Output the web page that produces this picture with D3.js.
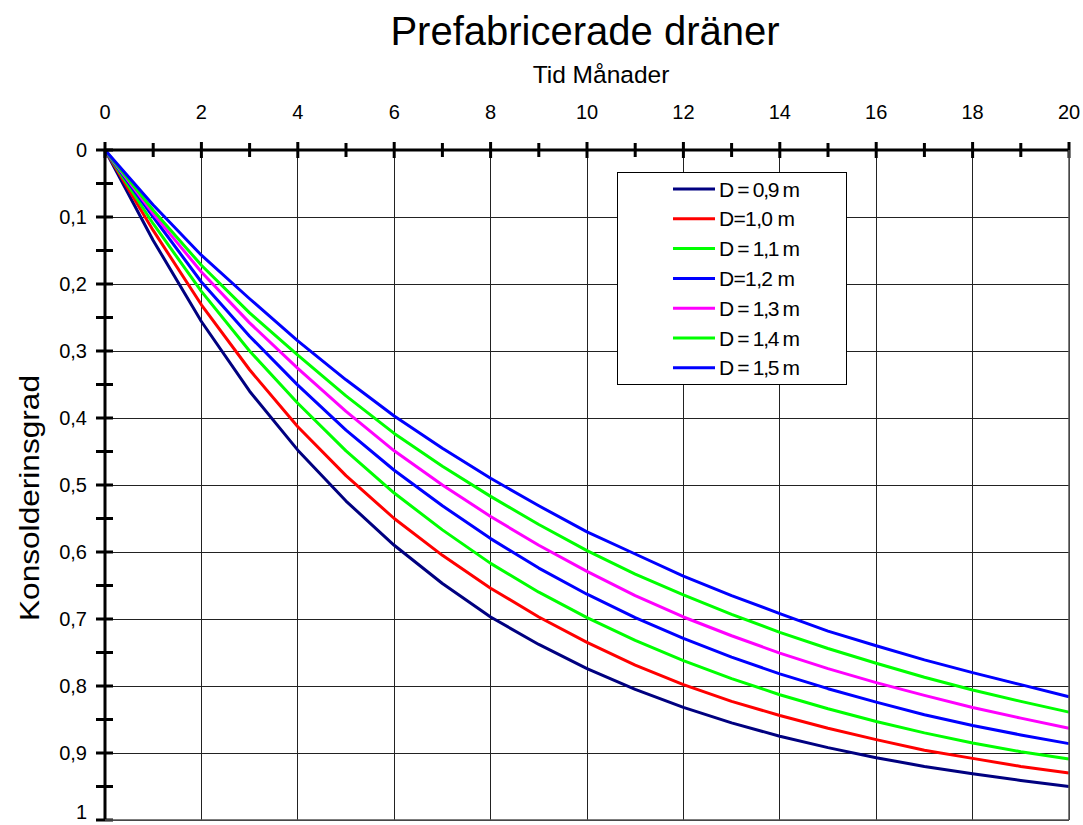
<!DOCTYPE html>
<html>
<head>
<meta charset="utf-8">
<script src="https://cdn.jsdelivr.net/npm/d3@7"></script>
<style>
  html, body { margin: 0; padding: 0; background: #fff; }
  svg { display: block; font-family: "Liberation Sans", Arial, sans-serif; }
</style>
</head>
<body>
<svg id="chart" width="1083" height="825"></svg>
<script>
// Time in months
const months = d3.range(0, 21);

// Degree of consolidation for each drain spacing D
const seriesLabels = ["D = 0,9 m", "D=1,0 m", "D = 1,1 m", "D=1,2 m", "D = 1,3 m", "D = 1,4 m", "D = 1,5 m"];
const seriesColors = ["#000080", "#ff0000", "#00ff00", "#0000ff", "#ff00ff", "#00ff00", "#0000ff"];

const d09 = [0, 0.135, 0.256, 0.360, 0.448, 0.524, 0.590, 0.647, 0.697, 0.738, 0.774, 0.805, 0.832, 0.855, 0.875, 0.892, 0.907, 0.920, 0.931, 0.941, 0.950];
const d10 = [0, 0.120, 0.231, 0.328, 0.413, 0.486, 0.550, 0.605, 0.654, 0.697, 0.735, 0.769, 0.798, 0.823, 0.844, 0.863, 0.880, 0.896, 0.908, 0.920, 0.930];
const d11 = [0, 0.110, 0.211, 0.300, 0.378, 0.449, 0.512, 0.567, 0.617, 0.660, 0.698, 0.732, 0.762, 0.789, 0.813, 0.834, 0.853, 0.870, 0.885, 0.898, 0.909];
const d12 = [0, 0.100, 0.197, 0.278, 0.351, 0.418, 0.478, 0.531, 0.580, 0.624, 0.663, 0.698, 0.729, 0.757, 0.782, 0.804, 0.824, 0.843, 0.859, 0.873, 0.886];
const d13 = [0, 0.095, 0.182, 0.258, 0.326, 0.390, 0.449, 0.500, 0.547, 0.590, 0.629, 0.665, 0.697, 0.725, 0.751, 0.774, 0.795, 0.814, 0.832, 0.848, 0.863];
const d14 = [0, 0.090, 0.172, 0.243, 0.306, 0.367, 0.423, 0.472, 0.517, 0.559, 0.598, 0.633, 0.664, 0.693, 0.720, 0.744, 0.766, 0.787, 0.806, 0.823, 0.839];
const d15 = [0, 0.082, 0.157, 0.222, 0.285, 0.343, 0.397, 0.445, 0.490, 0.531, 0.570, 0.603, 0.636, 0.665, 0.692, 0.718, 0.740, 0.761, 0.780, 0.798, 0.816];

const seriesValues = [d09, d10, d11, d12, d13, d14, d15];

const xTicks = d3.range(0, 21, 2);
const xMinorTicks = d3.range(0, 21, 1);
const yTicks = d3.range(0, 11).map(i => i / 10);
const yMinorTicks = d3.range(0, 21).map(i => i / 20);

const svg = d3.select("#chart");
const plotLeft = 105, plotRight = 1069, plotTop = 150, plotBottom = 820;

const x = d3.scaleLinear().domain([0, 20]).range([plotLeft, plotRight]);
const y = d3.scaleLinear().domain([0, 1]).range([plotTop, plotBottom]);
const fmt = v => String(+v.toFixed(2)).replace(".", ",");

// Grid
const grid = svg.append("g").attr("stroke", "#222").attr("stroke-width", 1).attr("shape-rendering", "crispEdges");
grid.selectAll(".vg").data(xTicks.slice(1)).join("line")
  .attr("x1", d => x(d)).attr("x2", d => x(d)).attr("y1", plotTop).attr("y2", plotBottom);
grid.selectAll(".hg").data(yTicks.slice(1)).join("line")
  .attr("x1", plotLeft).attr("x2", plotRight).attr("y1", d => y(d)).attr("y2", d => y(d));

// Series lines
const line = d3.line().x((d, i) => x(months[i])).y(d => y(d));
svg.append("g").selectAll("path").data(seriesValues).join("path")
  .attr("d", line)
  .attr("fill", "none")
  .attr("stroke", (d, i) => seriesColors[i])
  .attr("stroke-width", 3)
  .attr("stroke-linejoin", "round");

// Top (x) axis
const xAxis = svg.append("g");
xAxis.append("line").attr("x1", plotLeft).attr("x2", plotRight).attr("y1", plotTop).attr("y2", plotTop)
  .attr("stroke", "#000").attr("stroke-width", 3);
xAxis.selectAll(".xt").data(xMinorTicks).join("line")
  .attr("x1", d => x(d)).attr("x2", d => x(d))
  .attr("y1", d => d % 2 === 0 ? plotTop - 8 : plotTop - 7)
  .attr("y2", d => d % 2 === 0 ? plotTop + 8 : plotTop + 7)
  .attr("stroke", "#000").attr("stroke-width", 3);
xAxis.selectAll(".xl").data(xTicks).join("text")
  .attr("x", d => x(d)).attr("y", 119)
  .attr("text-anchor", "middle").attr("font-size", 20).attr("fill", "#000")
  .text(d => d);

// Left (y) axis
const yAxis = svg.append("g");
yAxis.append("line").attr("x1", plotLeft).attr("x2", plotLeft).attr("y1", plotTop).attr("y2", plotBottom)
  .attr("stroke", "#000").attr("stroke-width", 3);
yAxis.selectAll(".yt").data(yMinorTicks).join("line")
  .attr("x1", plotLeft - 9).attr("x2", plotLeft + 8)
  .attr("y1", d => y(d)).attr("y2", d => y(d))
  .attr("stroke", "#000").attr("stroke-width", 3);
yAxis.selectAll(".yl").data(yTicks).join("text")
  .attr("x", 87).attr("y", d => Math.min(y(d) + 7, 819))
  .attr("text-anchor", "end").attr("font-size", 20).attr("fill", "#000")
  .text(d => fmt(d));

// Right and bottom frame
svg.append("line").attr("x1", plotRight).attr("x2", plotRight).attr("y1", plotTop).attr("y2", plotBottom)
  .attr("stroke", "#555").attr("stroke-width", 1.5);
svg.append("line").attr("x1", plotLeft).attr("x2", plotRight).attr("y1", plotBottom).attr("y2", plotBottom)
  .attr("stroke", "#555").attr("stroke-width", 1.5);

// Titles
svg.append("text").attr("x", 585).attr("y", 45).attr("text-anchor", "middle")
  .attr("font-size", 40).attr("fill", "#000").text("Prefabricerade dräner");
svg.append("text").attr("x", 601).attr("y", 83).attr("text-anchor", "middle")
  .attr("font-size", 24.5).attr("fill", "#000").text("Tid Månader");
svg.append("text").attr("transform", "translate(39,498) rotate(-90)").attr("text-anchor", "middle")
  .attr("font-size", 27).attr("textLength", 246).attr("lengthAdjust", "spacingAndGlyphs")
  .attr("fill", "#000").text("Konsolderinsgrad");

// Legend
const lg = svg.append("g");
lg.append("rect").attr("x", 617.5).attr("y", 172.5).attr("width", 229).attr("height", 212)
  .attr("fill", "#fff").attr("stroke", "#000").attr("stroke-width", 1);
const rows = lg.selectAll(".row").data(seriesLabels).join("g")
  .attr("transform", (d, i) => `translate(0,${189 + i * 29.8})`);
rows.append("line").attr("x1", 673).attr("x2", 715).attr("y1", 0).attr("y2", 0)
  .attr("stroke", (d, i) => seriesColors[i]).attr("stroke-width", 3);
rows.append("text").attr("x", 719).attr("y", 7.5).attr("font-size", 21).attr("fill", "#000")
  .attr("textLength", d => d.includes(" = ") ? 81 : 76).attr("lengthAdjust", "spacing")
  .text(d => d);
</script>
</body>
</html>
